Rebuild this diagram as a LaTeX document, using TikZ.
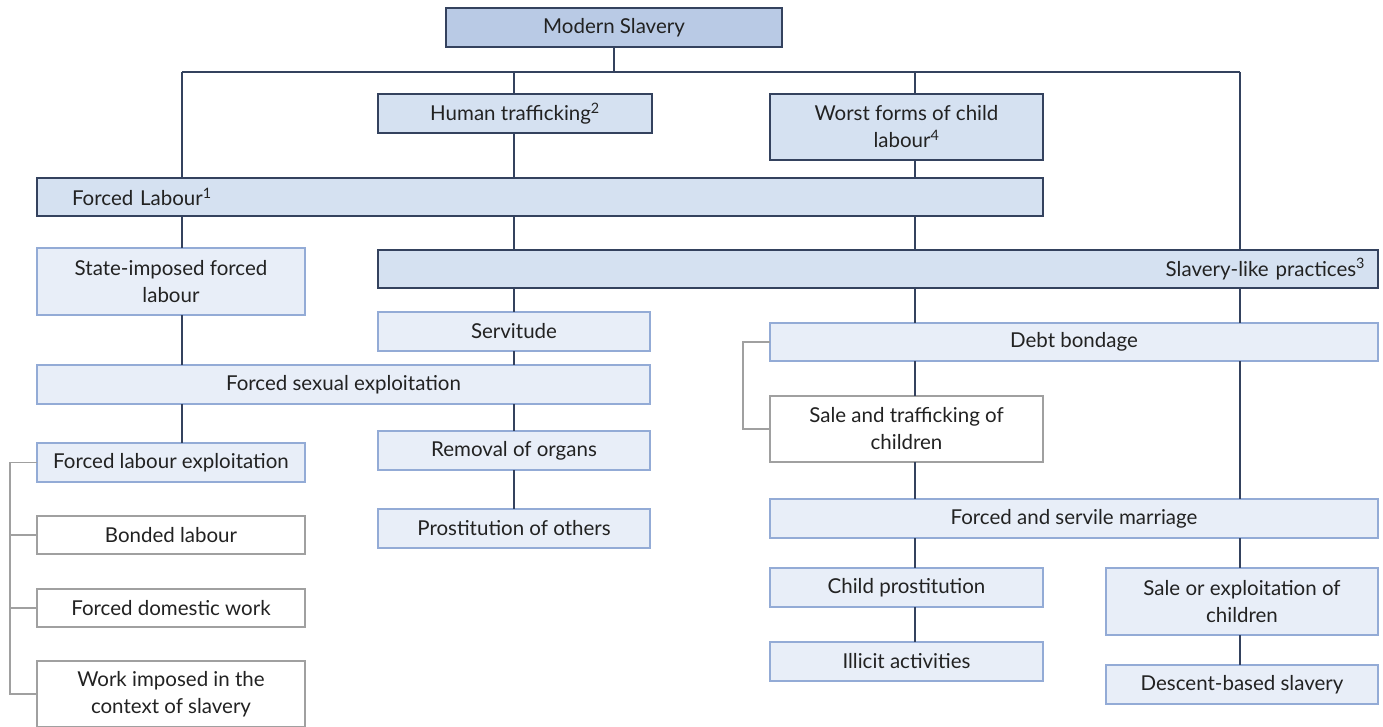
\documentclass[tikz,border=0pt]{standalone}
\usepackage{fontspec}
\setmainfont{Lato}
\definecolor{navy}{HTML}{34425E}
\definecolor{topfill}{HTML}{B9CAE5}
\definecolor{headfill}{HTML}{D5E1F1}
\definecolor{palefill}{HTML}{E8EEF8}
\definecolor{paleline}{HTML}{93ABD6}
\definecolor{greyline}{HTML}{A0A0A0}
\definecolor{txt}{HTML}{222222}
\begin{document}
\begin{tikzpicture}[x=1pt,y=-1pt,
  every node/.style={font=\fontsize{20.5}{27}\selectfont, text=txt, inner sep=0pt, outer sep=0pt, anchor=north west, align=center},
  topbox/.style={draw=navy, line width=2.4pt, fill=topfill},
  headbox/.style={draw=navy, line width=2.4pt, fill=headfill},
  palebox/.style={draw=paleline, line width=1.8pt, fill=palefill},
  whitebox/.style={draw=greyline, line width=1.8pt, fill=white},
  conn/.style={draw=navy, line width=2.4pt},
  brk/.style={draw=greyline, line width=1.8pt}]
\useasboundingbox (0,0) rectangle (1383,727);
% column coordinates
\coordinate (ca) at (182,72);
\coordinate (cb) at (514,72);
\coordinate (cc) at (915,72);
\coordinate (cd) at (1240,72);
% boxes
\node[topbox, minimum width=336pt, minimum height=39pt] (ms) at (446,8) {Modern Slavery};
\node[headbox, minimum width=274pt, minimum height=39pt] (ht) at (378,94) {Human trafficking\textsuperscript{2}};
\node[headbox, minimum width=273pt, minimum height=66pt] (wf) at (770,94) {Worst forms of child\\labour\textsuperscript{4}};
\node[headbox, minimum width=1006pt, minimum height=38pt, inner xsep=35pt, text width=936pt, align=left] (fl) at (37,178) {Forced Labour\textsuperscript{1}};
\node[headbox, minimum width=1000pt, minimum height=38pt, inner xsep=13pt, text width=974pt, align=right] (slp) at (378,250) {Slavery-like practices\textsuperscript{3}};
\node[palebox, minimum width=268pt, minimum height=67pt] (sifl) at (37,248) {State-imposed forced\\labour};
\node[palebox, minimum width=272pt, minimum height=39pt] (serv) at (378,312) {Servitude};
\node[palebox, minimum width=613pt, minimum height=39pt] (fse) at (37,365) {Forced sexual exploitation};
\node[palebox, minimum width=268pt, minimum height=39pt] (fle) at (37,443) {Forced labour exploitation};
\node[palebox, minimum width=272pt, minimum height=39pt] (rem) at (378,431) {Removal of organs};
\node[palebox, minimum width=272pt, minimum height=39pt] (pro) at (378,509) {Prostitution of others};
\node[whitebox, minimum width=268pt, minimum height=38pt] (bl) at (37,516) {Bonded labour};
\node[whitebox, minimum width=268pt, minimum height=38pt] (fdw) at (37,589) {Forced domestic work};
\node[whitebox, minimum width=268pt, minimum height=66pt] (wic) at (37,661) {Work imposed in the\\context of slavery};
\node[palebox, minimum width=608pt, minimum height=38pt] (db) at (770,323) {Debt bondage};
\node[whitebox, minimum width=273pt, minimum height=66pt] (stc) at (770,396) {Sale and trafficking of\\children};
\node[palebox, minimum width=608pt, minimum height=39pt] (fsm) at (770,499) {Forced and servile marriage};
\node[palebox, minimum width=273pt, minimum height=39pt] (cp) at (770,568) {Child prostitution};
\node[palebox, minimum width=273pt, minimum height=39pt] (ia) at (770,642) {Illicit activities};
\node[palebox, minimum width=272pt, minimum height=67pt] (soe) at (1106,568) {Sale or exploitation of\\children};
\node[palebox, minimum width=272pt, minimum height=39pt] (dbs) at (1106,665) {Descent-based slavery};
% connectors
\draw[conn] (ms.south) -- (ms.south |- ca);
\draw[conn] (ca) -- (cd);
\draw[conn] (ca) -- (ca |- fl.north);
\draw[conn] (cb) -- (cb |- ht.north);
\draw[conn] (cc) -- (cc |- wf.north);
\draw[conn] (cd) -- (cd |- slp.north);
\draw[conn] (ht.south -| cb) -- (fl.north -| cb);
\draw[conn] (wf.south -| cc) -- (fl.north -| cc);
\draw[conn] (fl.south -| cb) -- (slp.north -| cb);
\draw[conn] (fl.south -| cc) -- (slp.north -| cc);
\draw[conn] (fl.south -| ca) -- (sifl.north -| ca);
\draw[conn] (sifl.south -| ca) -- (fse.north -| ca);
\draw[conn] (fse.south -| ca) -- (fle.north -| ca);
\draw[conn] (slp.south -| cb) -- (serv.north -| cb);
\draw[conn] (serv.south -| cb) -- (fse.north -| cb);
\draw[conn] (fse.south -| cb) -- (rem.north -| cb);
\draw[conn] (rem.south -| cb) -- (pro.north -| cb);
\draw[conn] (slp.south -| cc) -- (db.north -| cc);
\draw[conn] (slp.south -| cd) -- (db.north -| cd);
\draw[conn] (db.south -| cc) -- (stc.north -| cc);
\draw[conn] (db.south -| cd) -- (fsm.north -| cd);
\draw[conn] (stc.south -| cc) -- (fsm.north -| cc);
\draw[conn] (fsm.south -| cc) -- (cp.north -| cc);
\draw[conn] (cp.south -| cc) -- (ia.north -| cc);
\draw[conn] (fsm.south -| cd) -- (soe.north -| cd);
\draw[conn] (soe.south -| cd) -- (dbs.north -| cd);
% brackets
\coordinate (bx) at (10,0);
\coordinate (by) at (743,0);
\draw[brk] (fle.west) -- (fle.west -| bx) -- (wic.west -| bx) -- (wic.west);
\draw[brk] (bl.west -| bx) -- (bl.west);
\draw[brk] (fdw.west -| bx) -- (fdw.west);
\draw[brk] (db.west) -- (db.west -| by) -- (stc.west -| by) -- (stc.west);
\end{tikzpicture}
\end{document}
